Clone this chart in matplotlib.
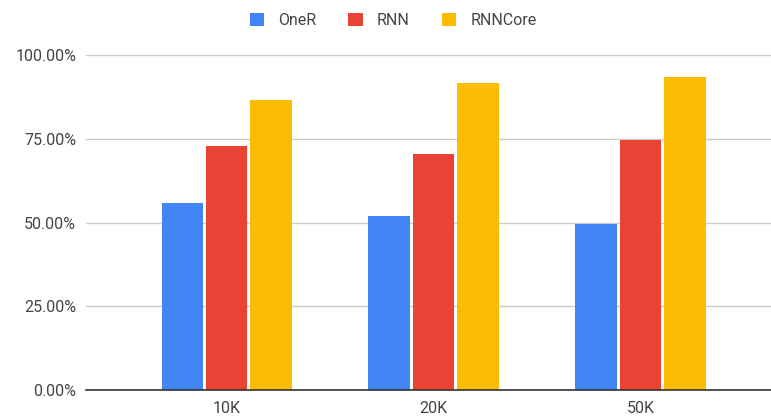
import numpy as np
import matplotlib.pyplot as plt
from matplotlib.ticker import PercentFormatter

categories = ["10K", "20K", "50K"]
series = ["OneR", "RNN", "RNNCore"]
oner = [55.9, 52.0, 49.7]
rnn = [72.9, 70.6, 74.7]
rnncore = [86.6, 91.5, 93.3]
colors = ["#4285F4", "#EA4335", "#FBBC04"]

plt.rcParams['font.family'] = ['Roboto', 'DejaVu Sans']

fig = plt.figure(figsize=(7.71, 4.19), dpi=100)
ax = fig.add_axes([0.1115, 0.0692, 0.8885, 0.7995])

x = np.arange(len(categories))
w = 0.2
step = 0.215
for i, (name, vals) in enumerate(zip(series, [oner, rnn, rnncore])):
    ax.bar(x + (i - 1) * step, vals, w, color=colors[i], label=name, zorder=3)

ax.set_ylim(0, 100)
ax.set_xlim(-0.68, 2.63)
ax.set_yticks([0, 25, 50, 75, 100])
ax.yaxis.set_major_formatter(PercentFormatter(decimals=2))
ax.set_xticks(x)
ax.set_xticklabels(categories)
ax.grid(axis='y', color='#cccccc', linewidth=1, zorder=0)
for s in ['top', 'right', 'left']:
    ax.spines[s].set_visible(False)
ax.spines['bottom'].set_color('#333333')
ax.spines['bottom'].set_linewidth(1.2)
ax.spines['bottom'].set_zorder(4)
ax.tick_params(axis='both', length=0, labelsize=11.5, labelcolor='#444444')
ax.tick_params(axis='y', pad=7)
ax.tick_params(axis='x', pad=8)

fig.legend(loc='center', bbox_to_anchor=(0.51, 0.952),
           ncol=3, frameon=False, fontsize=11.5, handlelength=0.9, handleheight=0.9,
           handletextpad=0.9, columnspacing=2.0, labelcolor='#444444')

fig.savefig("out.png", dpi=100)
